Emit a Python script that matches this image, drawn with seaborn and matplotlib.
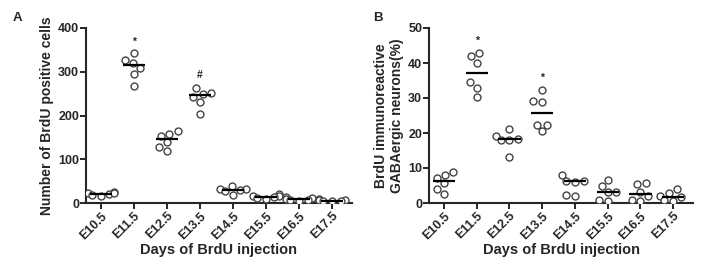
import matplotlib
matplotlib.use("Agg")
import matplotlib.pyplot as plt
import seaborn as sns
import pandas as pd
import numpy as np

days = ["E10.5", "E11.5", "E12.5", "E13.5", "E14.5", "E15.5", "E16.5", "E17.5"]

# panel A: number of BrdU positive cells (6 animals per day)
cells_e10 = [20, 23, 26, 18, 15, 22]
cells_e11 = [343, 327, 321, 309, 296, 267]
cells_e12 = [165, 153, 158, 139, 119, 129]
cells_e13 = [263, 252, 250, 243, 232, 203]
cells_e14 = [40, 33, 31, 30, 27, 18]
cells_e15 = [20, 17, 15, 14, 11, 9]
cells_e16 = [14, 11, 9, 8, 6, 5]
cells_e17 = [9, 7, 6, 5, 5, 4]

# panel B: BrdU immunoreactive GABAergic neurons (%)
gaba_e10 = [7.1, 8.0, 8.8, 5.6, 3.9, 2.5]
gaba_e11 = [43.0, 41.9, 40.0, 34.5, 33.0, 30.4]
gaba_e12 = [21.2, 19.2, 18.1, 18.3, 18.1, 13.2]
gaba_e13 = [32.4, 29.2, 29.0, 22.4, 22.4, 20.5]
gaba_e14 = [8.0, 6.3, 6.0, 6.3, 2.1, 2.3]
gaba_e15 = [6.6, 4.9, 3.1, 3.1, 0.6, 0.9]
gaba_e16 = [5.4, 5.8, 3.2, 2.0, 0.7, 0.9]
gaba_e17 = [3.9, 2.8, 1.9, 1.7, 0.7, 0.8]

marks_a = {"E11.5": "*", "E13.5": "#"}
marks_b = {"E11.5": "*", "E13.5": "*"}

cells = [cells_e10, cells_e11, cells_e12, cells_e13, cells_e14, cells_e15, cells_e16, cells_e17]
gaba = [gaba_e10, gaba_e11, gaba_e12, gaba_e13, gaba_e14, gaba_e15, gaba_e16, gaba_e17]


def to_long(groups):
    rows = {"day": [], "value": []}
    for d, vals in zip(days, groups):
        rows["day"] += [d] * len(vals)
        rows["value"] += list(vals)
    return pd.DataFrame(rows)


sns.set_style("ticks")
plt.rcParams["font.family"] = ["Liberation Sans", "DejaVu Sans"]
plt.rcParams["font.weight"] = "bold"


def panel(ax, df, ymax, yticks, ylabel, marks, letter, letter_x):
    sns.swarmplot(data=df, x="day", y="value", order=days, ax=ax, size=5,
                  color="white", edgecolor="#444444", linewidth=1.0)
    med = df.groupby("day")["value"].median().reindex(days)
    ax.hlines(med.values, np.arange(len(days)) - 0.34, np.arange(len(days)) + 0.34,
              color="black", lw=1.6, zorder=5)
    mx = df.groupby("day")["value"].max()
    for d, m in marks.items():
        i = days.index(d)
        off = 0.065 if m == "*" else 0.075
        ax.text(i, mx[d] + off * ymax, m, ha="center", va="center",
                fontsize=7.5, fontweight="bold", color="#222222")
    ax.set_ylim(0, ymax)
    ax.set_xlim(-0.45, 7.6)
    ax.set_yticks(yticks)
    sns.despine(ax=ax)
    for s in ["left", "bottom"]:
        ax.spines[s].set_linewidth(1.5)
    ax.tick_params(axis="both", width=1.4, length=4, labelsize=9, pad=1)
    ax.set_xticks(range(len(days)))
    ax.set_xticklabels(days, rotation=45, ha="right", rotation_mode="anchor",
                       fontweight="bold")
    for t in ax.get_yticklabels():
        t.set_fontweight("bold")
    ax.set_xlabel("Days of BrdU injection", fontsize=10.5, fontweight="bold", labelpad=1)
    ax.set_ylabel(ylabel, fontsize=10, fontweight="bold", labelpad=3)
    ax.figure.text(letter_x, 0.935, letter, fontsize=9.5, fontweight="bold",
                   ha="left", va="center")


fig = plt.figure(figsize=(7.07, 2.8), dpi=100)
ax_a = fig.add_axes([0.1216, 0.275, 0.376, 0.625])
ax_b = fig.add_axes([0.607, 0.275, 0.373, 0.625])

panel(ax_a, to_long(cells), 400, [0, 100, 200, 300, 400],
      "Number of BrdU positive cells", marks_a, "A", 0.018)
panel(ax_b, to_long(gaba), 50, [0, 10, 20, 30, 40, 50],
      "BrdU immunoreactive\nGABAergic neurons(%)", marks_b, "B", 0.528)

fig.savefig("out.png", dpi=100)
